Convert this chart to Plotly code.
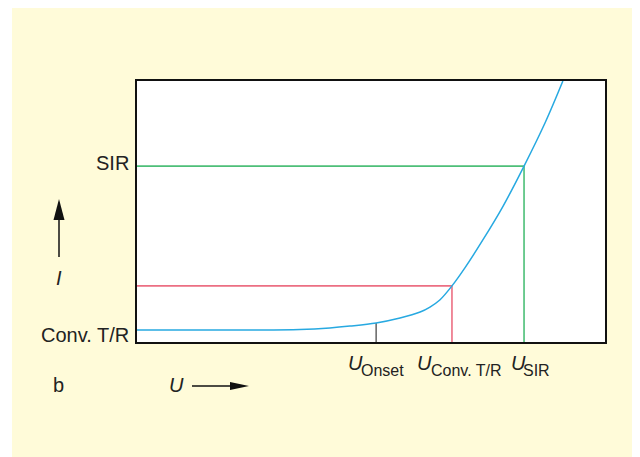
import plotly.graph_objects as go

# Characteristic curve (arbitrary units)
curve_u = [0, 2.41, 3.48, 4.12, 4.55, 5.11, 5.62, 6.05, 6.26, 6.47, 6.73, 7.01, 7.39, 7.82, 8.27, 8.72, 9.10]
curve_i = [0.46, 0.46, 0.48, 0.54, 0.61, 0.73, 0.92, 1.15, 1.34, 1.61, 2.15, 2.85, 3.91, 5.20, 6.74, 8.40, 10.0]

# Marked operating points
mark_names = ["Onset", "Conv. T/R", "SIR"]
mark_u = [5.11, 6.73, 8.27]
mark_i = [0.73, 2.15, 6.74]
mark_colors = ["#6d6d6d", "#ec6f83", "#4dbf78"]
mark_horizontal = [False, True, True]

# Level labels on the left
level_labels = ["SIR", "Conv. T/R"]

OFF = 8  # page body margin
# Plot area in page pixels
L, T, R, B = 137, 81, 605, 342
W, H = R - L, B - T


def px(x):
    return (x - L) / W


def py(y):
    return (B - y) / H


fig = go.Figure()

for name, u, i, c, hz in zip(mark_names, mark_u, mark_i, mark_colors, mark_horizontal):
    if hz:
        xs, ys = [0, u, u], [i, i, 0]
    else:
        xs, ys = [u, u], [i, 0]
    fig.add_trace(go.Scatter(x=xs, y=ys, mode="lines", line=dict(color=c, width=1.6),
                             hoverinfo="skip", showlegend=False))

fig.add_trace(go.Scatter(x=curve_u, y=curve_i, mode="lines",
                         line=dict(color="#27a9e1", width=1.5, shape="spline", smoothing=1.0),
                         showlegend=False))

font = dict(family="Liberation Sans, Arial, sans-serif", color="#222222")
ann = []

ann.append(dict(text=level_labels[0], xref="paper", yref="paper", x=px(131), y=py(162.5),
                xanchor="right", yanchor="middle", showarrow=False, font=dict(size=20, **font)))
ann.append(dict(text=level_labels[1], xref="paper", yref="paper", x=px(131), y=py(334.5),
                xanchor="right", yanchor="middle", showarrow=False, font=dict(size=20, **font)))

u_left = [347, 416, 510]
sub_left = [360, 430, 522]
for name, ul, sl in zip(mark_names, u_left, sub_left):
    ann.append(dict(text="<i>U</i>", xref="paper", yref="paper", x=px(ul - 1), y=py(362.5),
                    xanchor="left", yanchor="middle", showarrow=False, font=dict(size=20, **font)))
    ann.append(dict(text=name, xref="paper", yref="paper", x=px(sl - 1), y=py(370),
                    xanchor="left", yanchor="middle", showarrow=False, font=dict(size=16, **font)))

ann.append(dict(text="b", xref="paper", yref="paper", x=px(58), y=py(384.5),
                xanchor="center", yanchor="middle", showarrow=False, font=dict(size=20, **font)))
ann.append(dict(text="<i>U</i>", xref="paper", yref="paper", x=px(176.5), y=py(384.5),
                xanchor="center", yanchor="middle", showarrow=False, font=dict(size=20, **font)))
ann.append(dict(text="<i>I</i>", xref="paper", yref="paper", x=px(59), y=py(277.5),
                xanchor="center", yanchor="middle", showarrow=False, font=dict(size=20, **font)))


def pth(points):
    return "M " + " L ".join(f"{px(a):.5f},{py(b):.5f}" for a, b in points) + " Z"


shapes = [
    dict(type="rect", xref="paper", yref="paper", x0=px(12), x1=px(660), y0=py(480), y1=py(5),
         fillcolor="#fffbd9", line=dict(width=0), layer="below"),
    dict(type="rect", xref="paper", yref="paper", x0=0, x1=1, y0=0, y1=1,
         fillcolor="white", line=dict(width=0), layer="below"),
    # U arrow
    dict(type="line", xref="paper", yref="paper", x0=px(192), x1=px(233), y0=py(386), y1=py(386),
         line=dict(color="#111", width=1.5)),
    dict(type="path", xref="paper", yref="paper", path=pth([(230, 382), (249, 386), (230, 390)]),
         fillcolor="#111", line=dict(width=0)),
    # I arrow
    dict(type="line", xref="paper", yref="paper", x0=px(59), x1=px(59), y0=py(257), y1=py(217),
         line=dict(color="#111", width=1.5)),
    dict(type="path", xref="paper", yref="paper", path=pth([(53.5, 220), (59, 199), (64.5, 220)]),
         fillcolor="#111", line=dict(width=0)),
]

fig.update_layout(
    width=640, height=457,
    margin=dict(l=L - OFF, r=640 - R + OFF, t=T - OFF, b=457 - B + OFF),
    paper_bgcolor="white", plot_bgcolor="white",
    annotations=ann, shapes=shapes,
    showlegend=False,
)
axis = dict(range=[0, 10], showgrid=False, zeroline=False, showticklabels=False, ticks="",
            showline=True, mirror=True, linecolor="#111111", linewidth=2, fixedrange=True)
fig.update_xaxes(**axis)
fig.update_yaxes(**axis)

fig.write_html("out.html")
